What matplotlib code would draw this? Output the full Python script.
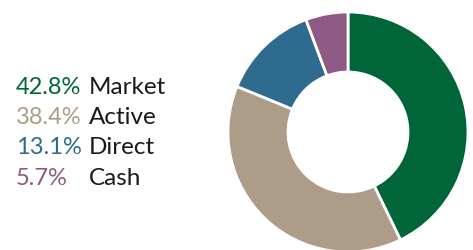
import matplotlib
matplotlib.use("Agg")
import matplotlib.pyplot as plt

labels = ["Market", "Active", "Direct", "Cash"]
values = [42.8, 38.4, 13.1, 5.7]
pct_text = ["42.8%", "38.4%", "13.1%", "5.7%"]
colors = ["#00663a", "#ad9d88", "#2f6b8e", "#8e5985"]

W, H = 473, 251
fig = plt.figure(figsize=(W / 100, H / 100), dpi=100)

# donut, centre at (348, 133) px, outer radius 120 px
cx, cy, r = 348, 133, 120
ax = fig.add_axes([(cx - r) / W, (H - cy - r) / H, 2 * r / W, 2 * r / H])
ax.pie(values, colors=colors, startangle=90, counterclock=False,
       radius=1, wedgeprops=dict(width=0.5, edgecolor="white", linewidth=2))
ax.set_xlim(-1, 1)
ax.set_ylim(-1, 1)
ax.set_aspect("equal")
ax.axis("off")

# legend text
y0, dy = 87, 30.5
for i, (p, lab, c) in enumerate(zip(pct_text, labels, colors)):
    y = 1 - (y0 + i * dy) / H
    fig.text(16 / W, y, p, color=c, fontsize=17, family="Lato", va="center", ha="left")
    fig.text(89 / W, y, lab, color="#1a1a1a", fontsize=17.5, family="Lato", va="center", ha="left")

fig.savefig("out.png", dpi=100)
